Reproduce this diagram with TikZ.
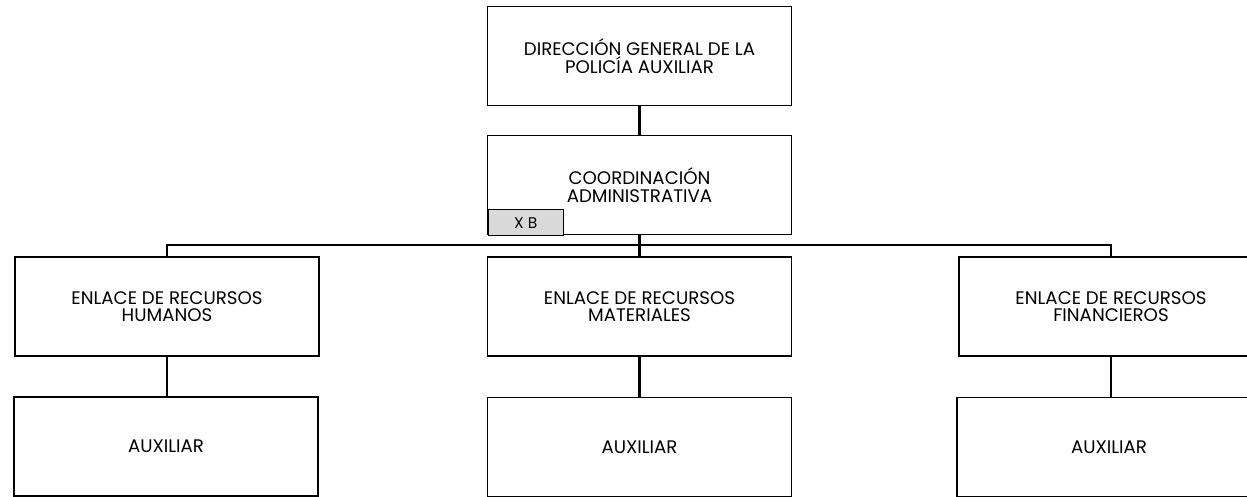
\documentclass[tikz,border=0pt]{standalone}
\usepackage{fontspec}
\setmainfont{Poppins}

\begin{document}
\begin{tikzpicture}[x=1pt, y=-1pt,
        unitbox/.style={draw, line width=1.6pt, fill=white, minimum width=304pt, minimum height=99pt, align=center, inner sep=0pt, font=\fontsize{18.2}{17.5}\selectfont},
        link/.style={line width=2.6pt}]
                    \useasboundingbox (0, 0) rectangle (1247, 497);
                    \clip (0, 0) rectangle (1247, 497);

                    \node (dir) at (639.5, 56) [unitbox] {DIRECCIÓN GENERAL DE LA\\POLICÍA AUXILIAR};
                    \node (coord) at (639.5, 185) [unitbox] {COORDINACIÓN\\ADMINISTRATIVA};
                    \node (xb) [anchor=south west, draw, line width=1pt, fill=gray!30, minimum width=75pt, minimum height=26pt, inner sep=0pt, font=\fontsize{15.5}{16}\selectfont] at ([shift={(1pt,-1pt)}]coord.south west) {X B};

                    \node (hum) at (167, 306.5) [unitbox] {ENLACE DE RECURSOS\\HUMANOS};
                    \node (mat) at (639.5, 306.5) [unitbox] {ENLACE DE RECURSOS\\MATERIALES};
                    \node (fin) at (1111, 306.5) [unitbox] {ENLACE DE RECURSOS\\FINANCIEROS};

                    \node (auxh) at (166, 446.5) [unitbox] {AUXILIAR};
                    \node (auxm) at (639.5, 447) [unitbox] {AUXILIAR};
                    \node (auxf) at (1109, 447) [unitbox] {AUXILIAR};

                    \coordinate (bus) at (639.5, 245);

                    \draw[link] (dir) -- (coord);
                    \draw[link] (coord) -- (mat);
                    \draw[link] (hum.north) |- (bus) -| (fin.north);
                    \draw[link] (hum) -- (hum.south |- auxh.north);
                    \draw[link] (mat) -- (auxm);
                    \draw[link] (fin) -- (fin.south |- auxf.north);
                \end{tikzpicture}
\end{document}
